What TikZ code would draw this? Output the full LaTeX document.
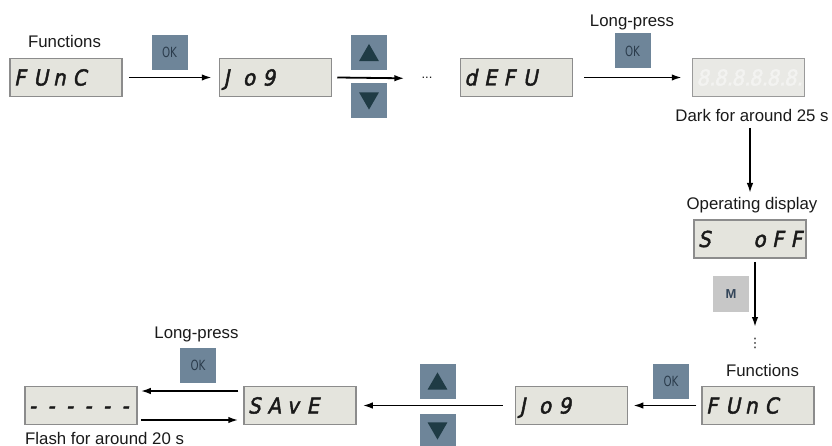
\documentclass[tikz,border=0pt]{standalone}
\usepackage{fontspec}
\setmainfont{Liberation Sans}
\newfontfamily\segfont[FakeBold=2,FakeSlant=0.2]{DejaVu Sans Condensed}
\newfontfamily\condfont{DejaVu Sans Condensed}
\newfontfamily\dejavu{DejaVu Sans}
\usetikzlibrary{arrows.meta,shapes.geometric}
\definecolor{dispfill}{HTML}{E4E4DD}
\definecolor{dispdraw}{HTML}{8C8C8C}
\definecolor{btnfill}{HTML}{6E8599}
\definecolor{btntext}{HTML}{2B3C4C}
\definecolor{tridark}{HTML}{1F3B45}
\definecolor{mfill}{HTML}{C7C7C7}
\definecolor{mtext}{HTML}{34465A}
\definecolor{darkfill}{HTML}{E9E9E5}
\definecolor{darkdraw}{HTML}{9A9A9A}
\definecolor{ghost}{HTML}{F3F3F1}
\definecolor{lbltext}{HTML}{1A1A1A}
\newcommand\sg[1]{\makebox[19.5pt][l]{#1}}
\newcommand\sgd[1]{\makebox[18.5pt][l]{#1}}
\newcommand\sgg[1]{\makebox[17.5pt][l]{#1}}
\newcommand\oklbl{\scalebox{0.82}[1]{OK}}
\tikzset{
  disp/.style={draw=dispdraw, line width=1.5pt, fill=dispfill,
    minimum height=38pt, inner xsep=4pt, inner ysep=0pt,
    text width=104pt, align=left, text height=16pt, text depth=0pt,
    text=lbltext, font=\segfont\fontsize{22}{22}\selectfont},
  darkdisp/.style={disp, draw=darkdraw, fill=darkfill},
  btn/.style={fill=btnfill, minimum width=36pt, minimum height=35pt,
    inner sep=0pt, text=btntext, font=\condfont\fontsize{14}{14}\selectfont},
  mbtn/.style={fill=mfill, minimum size=36pt, inner sep=0pt, text=mtext,
    font=\fontsize{13}{13}\selectfont\bfseries},
  tri/.style={regular polygon, regular polygon sides=3, fill=tridark,
    minimum size=23pt, inner sep=0pt},
  tridown/.style={tri, shape border rotate=180},
  lbl/.style={font=\fontsize{16.8}{18}\selectfont, text=lbltext, inner sep=0pt, anchor=base},
  arr/.style={-{Latex[length=10pt,width=6.5pt]}, line width=1.8pt},
}
\begin{document}
\begin{tikzpicture}[x=1pt,y=-1pt]
\useasboundingbox[fill=white] (0,0) rectangle (832,446);

% ---- top row
\node[lbl] (lf1) at (64.5,48) {Functions};
\node[disp] (func1) at (66,77.5) {\sg{F}\sg{U}\sg{n}\sg{C}};
\node[btn] (ok1) at (169.5,52.5) {\oklbl};
\node[disp] (jog1) at (275.5,77.5) {\sg{J}\sg{o}\sg{9}};
\node[btn] (up1) at (369,52.5) {};
\node[tri] (up1t) at ([yshift=-2.9pt]up1.center) {};
\node[btn] (dn1) at (369,101) {};
\node[tridown] (dn1t) at ([yshift=2.9pt]dn1.center) {};
\node[font=\fontsize{13}{13}\selectfont, inner sep=0pt, anchor=base, text=lbltext] (dots) at (427,79) {...};
\node[disp] (defu) at (516.5,77.5) {\sg{d}\sg{E}\sg{F}\sg{U}};
\node[lbl] (lp1) at (632,27) {Long-press};
\node[btn] (ok2) at (632.5,51) {\oklbl};
\node[darkdisp] (dark) at (748.5,77.5) {\textcolor{ghost}{\sgg{8.}\sgg{8.}\sgg{8.}\sgg{8.}\sgg{8.}\sgg{8.}}};
\node[lbl] (darklbl) at (752,122) {Dark for around 25 s};

\draw[arr, shorten <=6pt, shorten >=7pt] (func1) -- (jog1);
\draw[arr] ([xshift=5pt]jog1.east) -- ([xshift=-17pt]dots.west);
\draw[arr, shorten <=11pt, shorten >=10pt] (defu) -- (dark);

% ---- right column
\coordinate (v1s) at (750,128);
\coordinate (v1e) at (750,193);
\draw[arr] (v1s) -- (v1e);
\node[lbl] (oplbl) at (752,210) {Operating display};
\node[disp] (soff) at (750,239) {\sgd{S}\sgd{}\sgd{}\sgd{o}\sgd{F}\sgd{F}};
\node[mbtn] (mb) at (731,294) {M};
\coordinate (v2s) at (755,262);
\coordinate (v2e) at (755,327);
\draw[arr] (v2s) -- (v2e);
\node[inner sep=0pt, text=lbltext, font=\dejavu\fontsize{13}{13}\selectfont] (vdots) at (755,343) {⋮};

% ---- bottom row
\node[lbl] (lf2) at (762.5,376) {Functions};
\node[disp] (func2) at (758,405.5) {\sg{F}\sg{U}\sg{n}\sg{C}};
\node[btn] (ok3) at (671,381) {\oklbl};
\node[disp] (jog2) at (571.5,405.5) {\sg{J}\sg{o}\sg{9}};
\node[btn] (up2) at (437.5,381) {};
\node[tri] (up2t) at ([yshift=-2.9pt]up2.center) {};
\node[btn] (dn2) at (437.5,431) {};
\node[tridown] (dn2t) at ([yshift=2.9pt]dn2.center) {};
\node[disp] (save) at (300,405.5) {\sg{S}\sg{A}\sg{v}\sg{E}};
\node[lbl] (lp2) at (196.5,338) {Long-press};
\node[btn] (ok4) at (198,365) {\oklbl};
\node[disp] (dash) at (81,405.5) {\sgd{-}\sgd{-}\sgd{-}\sgd{-}\sgd{-}\sgd{-}};
\node[lbl, anchor=base west] (flash) at (25,444) {Flash for around 20 s};

\draw[arr, shorten <=5pt, shorten >=5pt] (func2) -- (jog2);
\draw[arr, shorten <=12pt, shorten >=6pt] (jog2) -- (save);
\draw[arr] ([xshift=-5pt,yshift=14.5pt]save.west) -- ([xshift=3pt,yshift=14.5pt]dash.east);
\draw[arr] ([xshift=3pt,yshift=-14.5pt]dash.east) -- ([xshift=-5pt,yshift=-14.5pt]save.west);
\end{tikzpicture}
\end{document}
